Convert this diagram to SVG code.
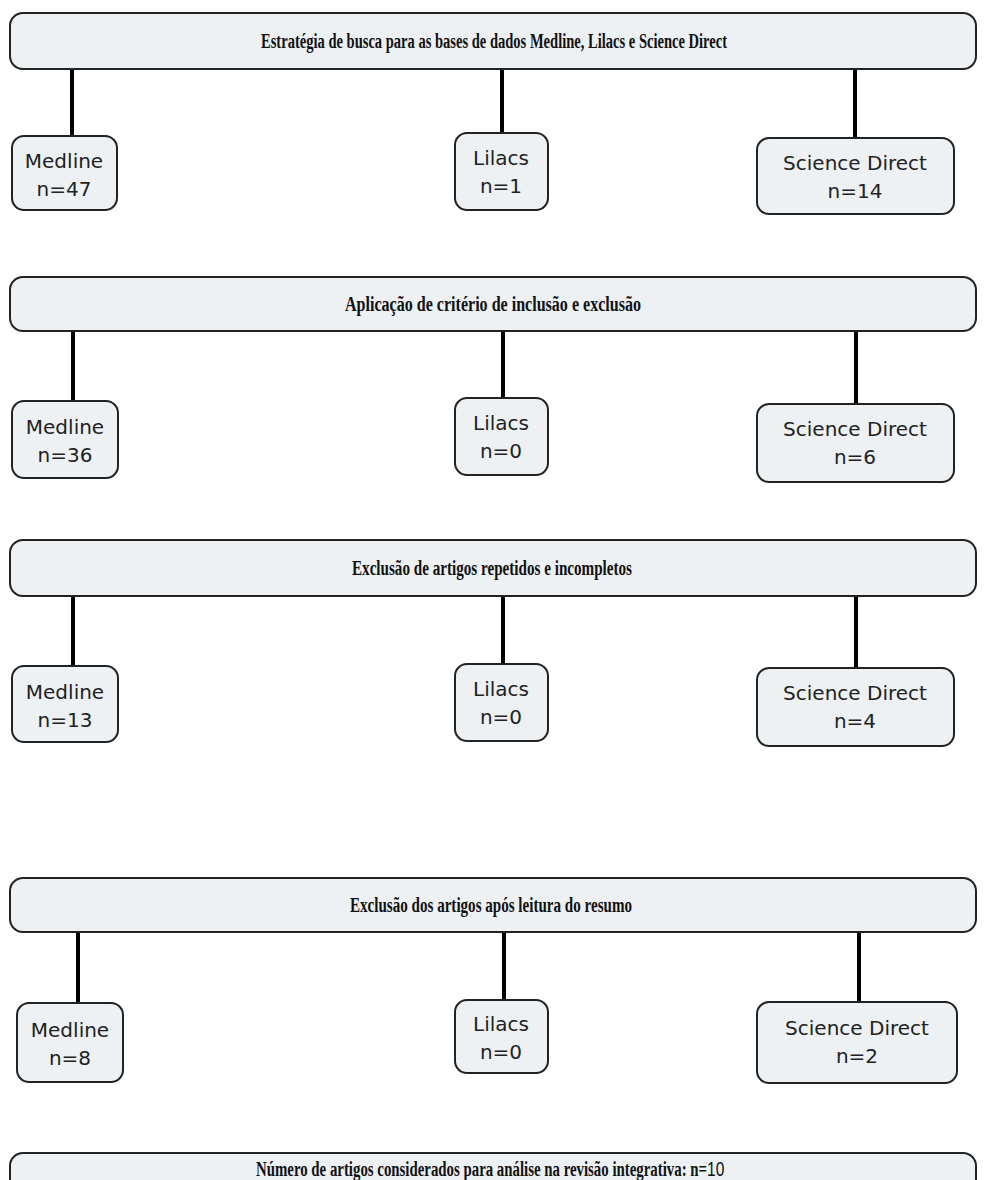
<svg xmlns="http://www.w3.org/2000/svg" width="987" height="1180" viewBox="0 0 987 1180">
<style>
.hdr{fill:#edf1f4;stroke:#222;stroke-width:2}
.box{fill:#edf1f4;stroke:#222;stroke-width:2}
.ht{font-family:"Liberation Serif",serif;font-weight:bold;font-size:20px;fill:#111;text-anchor:middle}
.bt{font-family:"DejaVu Sans","Liberation Sans",sans-serif;font-size:20px;fill:#222;text-anchor:middle}
.c{stroke:#000;stroke-width:4;fill:none}
</style>
<rect width="987" height="1180" fill="#fff"/>
<g id="connectors">
<line class="c" x1="72" y1="69" x2="72" y2="136"/>
<line class="c" x1="502" y1="69" x2="502" y2="133"/>
<line class="c" x1="855" y1="69" x2="855" y2="138"/>
<line class="c" x1="73" y1="331" x2="73" y2="401"/>
<line class="c" x1="503" y1="331" x2="503" y2="398"/>
<line class="c" x1="856" y1="331" x2="856" y2="404"/>
<line class="c" x1="73" y1="596" x2="73" y2="666"/>
<line class="c" x1="503" y1="596" x2="503" y2="664"/>
<line class="c" x1="856" y1="596" x2="856" y2="668"/>
<line class="c" x1="78" y1="932" x2="78" y2="1003"/>
<line class="c" x1="504" y1="932" x2="504" y2="1000"/>
<line class="c" x1="859" y1="932" x2="859" y2="1002"/>
</g>
<g id="h1"><rect class="hdr" x="10" y="13" width="966" height="56" rx="13"/><text class="ht" x="494" y="48" textLength="466" lengthAdjust="spacingAndGlyphs">Estratégia de busca para as bases de dados Medline, Lilacs e Science Direct</text></g>
<g id="m1"><rect class="box" x="12" y="136" width="105" height="74" rx="12"/><text class="bt" x="64" y="168">Medline</text><text class="bt" x="64" y="196">n=47</text></g>
<g id="l1"><rect class="box" x="455" y="133" width="93" height="77" rx="12"/><text class="bt" x="501" y="165">Lilacs</text><text class="bt" x="501" y="193">n=1</text></g>
<g id="s1"><rect class="box" x="757" y="138" width="197" height="76" rx="12"/><text class="bt" x="855" y="170">Science Direct</text><text class="bt" x="855" y="198">n=14</text></g>

<g id="h2"><rect class="hdr" x="10" y="277" width="966" height="54" rx="13"/><text class="ht" x="493" y="311" textLength="296" lengthAdjust="spacingAndGlyphs">Aplicação de critério de inclusão e exclusão</text></g>
<g id="m2"><rect class="box" x="12" y="401" width="106" height="77" rx="12"/><text class="bt" x="65" y="434">Medline</text><text class="bt" x="65" y="462">n=36</text></g>
<g id="l2"><rect class="box" x="455" y="398" width="93" height="77" rx="12"/><text class="bt" x="501" y="430">Lilacs</text><text class="bt" x="501" y="458">n=0</text></g>
<g id="s2"><rect class="box" x="757" y="404" width="197" height="78" rx="12"/><text class="bt" x="855" y="436">Science Direct</text><text class="bt" x="855" y="464">n=6</text></g>

<g id="h3"><rect class="hdr" x="10" y="540" width="966" height="56" rx="13"/><text class="ht" x="492" y="575" textLength="280" lengthAdjust="spacingAndGlyphs">Exclusão de artigos repetidos e incompletos</text></g>
<g id="m3"><rect class="box" x="12" y="666" width="106" height="76" rx="12"/><text class="bt" x="65" y="699">Medline</text><text class="bt" x="65" y="727">n=13</text></g>
<g id="l3"><rect class="box" x="455" y="664" width="93" height="77" rx="12"/><text class="bt" x="501" y="696">Lilacs</text><text class="bt" x="501" y="724">n=0</text></g>
<g id="s3"><rect class="box" x="757" y="668" width="197" height="78" rx="12"/><text class="bt" x="855" y="700">Science Direct</text><text class="bt" x="855" y="728">n=4</text></g>

<g id="h4"><rect class="hdr" x="10" y="878" width="966" height="54" rx="13"/><text class="ht" x="491" y="912" textLength="282" lengthAdjust="spacingAndGlyphs">Exclusão dos artigos após leitura do resumo</text></g>
<g id="m4"><rect class="box" x="17" y="1003" width="106" height="79" rx="12"/><text class="bt" x="70" y="1037">Medline</text><text class="bt" x="70" y="1065">n=8</text></g>
<g id="l4"><rect class="box" x="455" y="1000" width="93" height="73" rx="12"/><text class="bt" x="501" y="1031">Lilacs</text><text class="bt" x="501" y="1059">n=0</text></g>
<g id="s4"><rect class="box" x="757" y="1002" width="200" height="81" rx="12"/><text class="bt" x="857" y="1035">Science Direct</text><text class="bt" x="857" y="1063">n=2</text></g>

<g id="h5"><rect class="hdr" x="10" y="1153" width="966" height="60" rx="13"/><text class="ht" style="text-anchor:start" transform="translate(256 1176) scale(0.742 1)" x="0" y="0">Número de artigos considerados para análise na revisão integrativa: n=<tspan font-family="Liberation Sans, sans-serif" font-weight="normal" font-size="21px">10</tspan></text></g>
</svg>
